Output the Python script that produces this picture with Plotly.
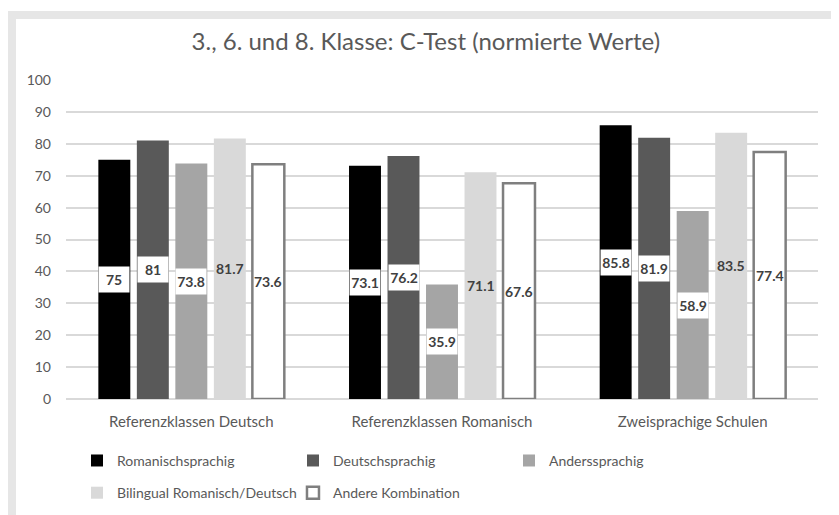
import plotly.graph_objects as go

categories = ["Referenzklassen Deutsch", "Referenzklassen Romanisch", "Zweisprachige Schulen"]
series_names = ["Romanischsprachig", "Deutschsprachig", "Anderssprachig",
                "Bilingual Romanisch/Deutsch", "Andere Kombination"]
romanischsprachig = [75, 73.1, 85.8]
deutschsprachig = [81, 76.2, 81.9]
anderssprachig = [73.8, 35.9, 58.9]
bilingual = [81.7, 71.1, 83.5]
andere = [73.6, 67.6, 77.4]
y_ticks = [0, 10, 20, 30, 40, 50, 60, 70, 80, 90, 100]

series_values = [romanischsprachig, deutschsprachig, anderssprachig, bilingual, andere]
fills = ["#000000", "#595959", "#a5a5a5", "#d9d9d9", "#ffffff"]
line_colors = ["#000000", "#595959", "#a5a5a5", "#d9d9d9", "#7f7f7f"]
line_widths = [0, 0, 0, 0, 2.5]
label_bg = [True, True, True, False, False]

FONT = "Lato"
TXT = "#595959"
BARGAP = 0.232
GROUPGAP = 0.17

fig = go.Figure()
for j, (name, vals) in enumerate(zip(series_names, series_values)):
    fig.add_trace(go.Bar(
        x=categories, y=vals, name=name,
        marker=dict(color=fills[j], line=dict(color=line_colors[j], width=line_widths[j])),
        legend="legend" if j < 3 else "legend2",
        hoverinfo="skip",
    ))

# data labels, centred in the bars
slot = (1 - BARGAP) / len(series_names)
annotations = []
for j, vals in enumerate(series_values):
    for i, v in enumerate(vals):
        ann = dict(
            x=i + (j - (len(series_names) - 1) / 2) * slot, y=v / 2,
            xref="x", yref="y", text="<b>" + str(v) + "</b>", showarrow=False,
            font=dict(family=FONT, size=14, color="#404040"),
            xanchor="center", yanchor="middle",
        )
        if label_bg[j]:
            ann.update(bgcolor="#ffffff", width=30, height=25, borderpad=0)
        annotations.append(ann)

# outer grey frame and white chart area
shapes = [
    dict(type="rect", xref="paper", yref="paper", x0=-0.0785, x1=1.05, y0=-0.45, y1=1.216,
         fillcolor="#e6e6e6", line=dict(width=0), layer="below"),
    dict(type="rect", xref="paper", yref="paper", x0=-0.0665, x1=1.0186, y0=-0.45, y1=1.191,
         fillcolor="#ffffff", line=dict(width=0), layer="below"),
]

fig.update_layout(
    width=839, height=515,
    margin=dict(l=58, r=29, t=72, b=124, autoexpand=False),
    paper_bgcolor="#ffffff", plot_bgcolor="rgba(0,0,0,0)",
    barmode="group", bargap=BARGAP, bargroupgap=GROUPGAP,
    font=dict(family=FONT, color=TXT, size=14),
    title=dict(text="3., 6. und 8. Klasse: C-Test (normierte Werte)",
               x=0.498, xref="container", xanchor="center",
               y=1 - 34 / 515, yref="container", yanchor="middle",
               font=dict(family=FONT, size=24, color=TXT)),
    xaxis=dict(showgrid=False, showline=False, ticks="", zeroline=False,
               tickfont=dict(size=15, color=TXT), ticklabelstandoff=12),
    yaxis=dict(range=[0, 100], tickvals=y_ticks, showgrid=True, gridcolor="#d9d9d9",
               gridwidth=1.5, zeroline=True, zerolinecolor="#d9d9d9", zerolinewidth=1.5,
               showline=False, ticks="", tickfont=dict(size=14, color=TXT),
               ticklabelstandoff=14),
    legend=dict(orientation="h", x=0.0146, y=-0.194, xanchor="left", yanchor="middle",
                entrywidth=171, font=dict(size=14, color=TXT), bgcolor="rgba(0,0,0,0)"),
    legend2=dict(orientation="h", x=0.0146, y=-0.295, xanchor="left", yanchor="middle",
                 entrywidth=171, font=dict(size=14, color=TXT), bgcolor="rgba(0,0,0,0)"),
    annotations=annotations,
    shapes=shapes,
    showlegend=True,
)

fig.write_html("out.html")
